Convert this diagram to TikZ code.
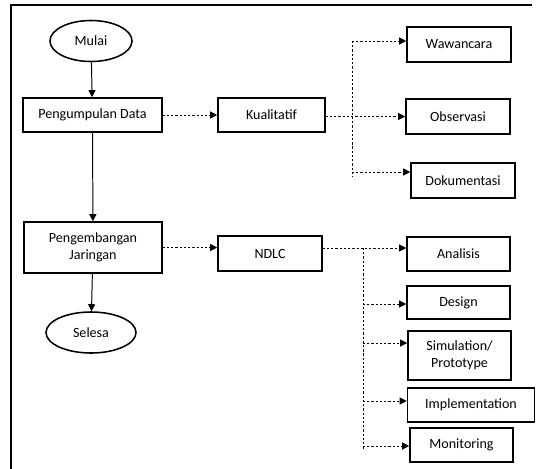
\documentclass[tikz,border=0pt]{standalone}
\usepackage{fontspec}
\setmainfont{Carlito}
\usetikzlibrary{arrows.meta,shapes.geometric}

\begin{document}
\begin{tikzpicture}[x=0.025cm,y=-0.025cm,
	kotak/.style={draw, line width=1.1pt, inner sep=0pt, align=center, minimum width=2.6cm, minimum height=0.875cm},
	elips/.style={draw, ellipse, line width=1.1pt, inner sep=0pt, minimum width=2.05cm, minimum height=1.025cm},
	panah/.style={line width=0.7pt, -{Triangle[length=5pt,width=5pt]}},
	putus/.style={line width=0.7pt, dash pattern=on 1.6pt off 1.4pt, -{Triangle[length=5pt,width=5pt]}},
	jalur/.style={line width=0.7pt, dash pattern=on 1.6pt off 1.4pt}]
	\useasboundingbox (0,0) rectangle (536,468);
	\draw[line width=1.5pt] (532,5) -- (11,5) -- (11,470);
	% alur utama
	\draw (91,41) node[elips](mulai) {Mulai};
	\draw (92.5,115) node[kotak, minimum width=3.475cm, minimum height=0.85cm](kumpul) {Pengumpulan Data};
	\draw (93,247.5) node[kotak, minimum width=3.45cm, minimum height=1.275cm](kembang) {Pengembangan\\Jaringan};
	\draw (91,332.5) node[elips, minimum width=2.25cm](selesa) {Selesa};
	\draw (271.5,115) node[kotak, minimum width=2.675cm, minimum height=0.85cm](kuali) {Kualitatif};
	\draw (270,253.5) node[kotak](ndlc) {NDLC};
	% metode kualitatif
	\draw (459,44.5) node[kotak](wawan) {Wawancara};
	\draw (458,116.5) node[kotak](obser) {Observasi};
	\draw (463,180.5) node[kotak](doku) {Dokumentasi};
	% tahapan NDLC
	\draw (458.5,254) node[kotak, minimum width=2.575cm, minimum height=0.85cm](anal) {Analisis};
	\draw (458.5,302.5) node[kotak, minimum width=2.575cm, minimum height=0.825cm](desain) {Design};
	\draw (459.5,355.5) node[kotak, minimum width=2.575cm, minimum height=1.225cm](simul) {Simulation/\\Prototype};
	\draw (471,405) node[kotak, minimum width=3.175cm, minimum height=0.85cm](imple) {Implementation};
	\draw (461.5,445) node[kotak, minimum width=2.575cm, minimum height=0.85cm](monit) {Monitoring};
	\coordinate (k1) at (352,41);
	\coordinate (k2) at (352,172);
	\coordinate (k3) at (352,177);
	\coordinate (n1) at (363,248);
	\coordinate (n2) at (363,304);
	\coordinate (n3) at (363,343);
	\coordinate (n4) at (363,401);
	\coordinate (n5) at (363,446);
	\coordinate (n6) at (363,450);
	\draw[panah] (mulai) -- (kumpul);
	\draw[panah] (kumpul) -- (kembang);
	\draw[panah] (kembang) -- (selesa);
	\draw[putus] (kumpul) -- (kuali);
	\draw[putus] (kembang.east) -- (kembang.east -| ndlc.west);
	\draw[putus] (kuali.east |- obser) -- (obser);
	\draw[jalur] (k1) -- (k3);
	\draw[putus] (k1) -- (k1 -| wawan.west);
	\draw[putus] (k2) -- (k2 -| doku.west);
	\draw[putus] (ndlc.east |- n1) -- (n1 -| anal.west);
	\draw[jalur] (n1) -- (n6);
	\draw[putus] (n2) -- (n2 -| desain.west);
	\draw[putus] (n3) -- (n3 -| simul.west);
	\draw[putus] (n4) -- (n4 -| imple.west);
	\draw[putus] (n5) -- (n5 -| monit.west);
\end{tikzpicture}
\end{document}
